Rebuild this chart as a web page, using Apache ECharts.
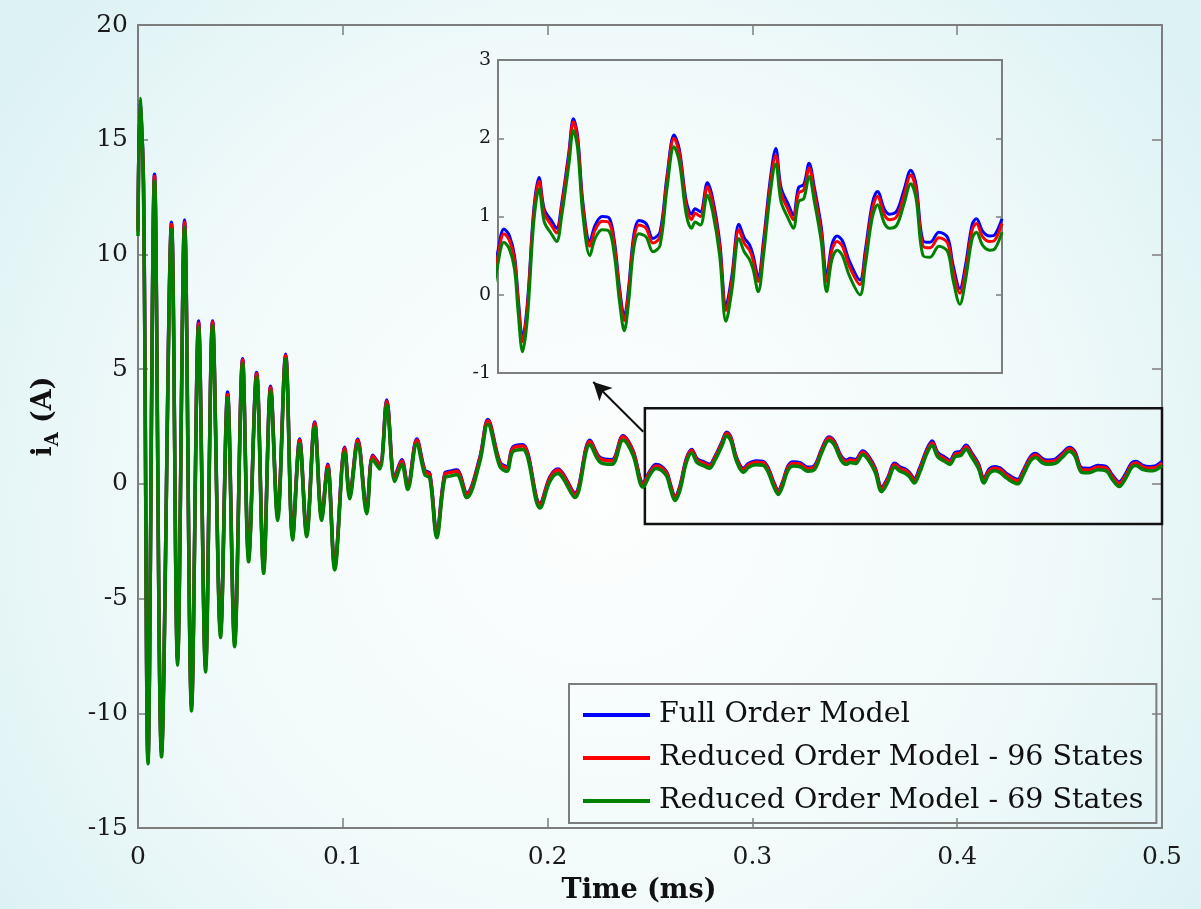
<!DOCTYPE html>
<html><head><meta charset="utf-8">
<script src="https://cdn.jsdelivr.net/npm/echarts@6/dist/echarts.min.js"></script>
<style>html,body{margin:0;padding:0;background:#eef9fa;}#c{width:1201px;height:909px;}</style>
</head><body><div id="c"></div>
<script>
// time (ms)
const TIME = [
  0, 0.00098, 0.00269, 0.00489, 0.00806, 0.01149, 0.01637, 0.01931, 0.02273, 0.02615,
  0.02957, 0.03299, 0.03641, 0.04032, 0.04374, 0.04717, 0.05108, 0.05401, 0.05792, 0.06134,
  0.06476, 0.06818, 0.07209, 0.07551, 0.07893, 0.08236, 0.08627, 0.08969, 0.09262, 0.09604,
  0.10093, 0.10337, 0.10728, 0.11168, 0.11461, 0.11804, 0.12146, 0.12537, 0.12879, 0.13172,
  0.13612, 0.14003, 0.14247, 0.14590, 0.14981, 0.15274, 0.15567, 0.16056, 0.16691, 0.17082,
  0.17669, 0.18011, 0.18304, 0.18793, 0.19624, 0.20112, 0.20503, 0.20748, 0.21334, 0.22067,
  0.22556, 0.23143, 0.23680, 0.24169, 0.24658,
  0.25, 0.25296, 0.25557, 0.25818, 0.25992, 0.26218, 0.26461, 0.26775, 0.27035, 0.27296,
  0.27644, 0.27905, 0.28166, 0.28514, 0.28740, 0.28949, 0.29210, 0.29558, 0.29819, 0.30167,
  0.30515, 0.30776, 0.31037, 0.31263, 0.31472, 0.31733, 0.31994, 0.32342, 0.32690, 0.33037,
  0.33385, 0.33733, 0.33994, 0.34342, 0.34603, 0.34777, 0.35038, 0.35386, 0.35647, 0.35995,
  0.36308, 0.36604, 0.36952, 0.37213, 0.37474, 0.37648, 0.37909, 0.38170, 0.38517, 0.38778,
  0.39039, 0.39387, 0.39648, 0.39909, 0.40170, 0.40431, 0.40692, 0.41040, 0.41301, 0.41562,
  0.41823, 0.42084, 0.42432, 0.42954, 0.43215, 0.43563, 0.43824, 0.44171, 0.44432, 0.44780,
  0.45128, 0.45476, 0.45737, 0.46085, 0.46433, 0.46868, 0.47303, 0.47564, 0.47912, 0.48173,
  0.48521, 0.48730, 0.49043, 0.49391, 0.49652, 0.50000
];
// i_A (A), Full Order Model
const FULL_ORDER = [
  11.1, 16.6, 13.1, -11.9, 13.5, -11.6, 11.4, -7.6, 11.5, -9.6,
  7.1, -7.9, 7.1, -6.4, 4.0, -6.8, 5.45, -3.1, 4.85, -3.6,
  4.25, -1.35, 5.65, -2.25, 1.95, -2.1, 2.7, -1.4, 0.85, -3.55,
  1.6, -0.45, 1.95, -1.1, 1.25, 0.85, 3.65, 0.3, 1.05, -0.05,
  1.95, 0.6, 0.45, -2.15, 0.45, 0.55, 0.6, -0.4, 1.15, 2.8,
  0.95, 0.75, 1.6, 1.7, -0.85, 0.3, 0.65, 0.45, -0.4, 1.9,
  1.15, 1.05, 2.1, 1.45, 0.05,
  0.56, 0.84, 0.76, 0.50, -0.01, -0.55, -0.10, 1.09, 1.50, 1.09,
  0.95, 0.85, 1.18, 1.82, 2.25, 2.03, 1.18, 0.68, 0.89, 1.00,
  0.98, 0.68, 0.07, -0.28, 0.07, 0.76, 0.95, 0.91, 0.72, 0.80,
  1.52, 2.04, 1.86, 1.19, 1.03, 1.10, 1.06, 1.43, 1.23, 0.68,
  -0.14, 0.25, 0.90, 0.73, 0.64, 0.51, 0.23, 0.69, 1.50, 1.87,
  1.37, 1.16, 1.02, 1.37, 1.41, 1.68, 1.37, 0.86, 0.23, 0.64,
  0.75, 0.69, 0.43, 0.19, 0.56, 1.16, 1.32, 1.09, 1.03, 1.07,
  1.33, 1.59, 1.41, 0.69, 0.67, 0.80, 0.73, 0.39, 0.08, 0.35,
  0.90, 0.97, 0.81, 0.75, 0.77, 0.97
];
// Reduced Order Model - 96 States
const ROM_96 = [
  11.0, 16.5, 13.0, -12.0, 13.4, -11.7, 11.3, -7.7, 11.4, -9.7,
  7.0, -8.0, 7.05, -6.5, 3.9, -6.9, 5.4, -3.2, 4.8, -3.7,
  4.2, -1.4, 5.6, -2.3, 1.9, -2.15, 2.65, -1.45, 0.8, -3.6,
  1.55, -0.5, 1.9, -1.15, 1.2, 0.8, 3.6, 0.25, 1.0, -0.1,
  1.9, 0.55, 0.4, -2.2, 0.4, 0.5, 0.55, -0.45, 1.1, 2.75,
  0.9, 0.7, 1.55, 1.65, -0.9, 0.25, 0.6, 0.4, -0.45, 1.85,
  1.1, 1.0, 2.05, 1.4, 0.0,
  0.50, 0.78, 0.70, 0.45, -0.06, -0.60, -0.15, 1.04, 1.45, 1.04,
  0.89, 0.79, 1.13, 1.77, 2.21, 1.98, 1.13, 0.62, 0.83, 0.94,
  0.92, 0.62, 0.02, -0.33, 0.02, 0.70, 0.89, 0.85, 0.66, 0.74,
  1.47, 2.00, 1.81, 1.13, 0.96, 1.04, 1.00, 1.38, 1.17, 0.62,
  -0.20, 0.19, 0.83, 0.66, 0.57, 0.45, 0.17, 0.62, 1.43, 1.78,
  1.30, 1.09, 0.96, 1.30, 1.34, 1.62, 1.30, 0.79, 0.17, 0.57,
  0.68, 0.62, 0.36, 0.13, 0.49, 1.09, 1.26, 1.02, 0.96, 1.00,
  1.26, 1.53, 1.34, 0.62, 0.60, 0.73, 0.66, 0.32, 0.02, 0.28,
  0.83, 0.91, 0.74, 0.68, 0.70, 0.91
];
// Reduced Order Model - 69 States
const ROM_69 = [
  10.8, 16.8, 12.8, -12.2, 13.2, -11.9, 11.1, -7.9, 11.2, -9.9,
  6.85, -8.2, 6.9, -6.7, 3.75, -7.1, 5.25, -3.4, 4.65, -3.9,
  4.05, -1.6, 5.45, -2.45, 1.75, -2.3, 2.5, -1.6, 0.65, -3.75,
  1.4, -0.65, 1.75, -1.3, 1.05, 0.65, 3.45, 0.1, 0.85, -0.25,
  1.75, 0.4, 0.25, -2.35, 0.25, 0.35, 0.4, -0.6, 0.95, 2.6,
  0.75, 0.55, 1.4, 1.5, -1.05, 0.1, 0.45, 0.25, -0.6, 1.7,
  0.95, 0.85, 1.9, 1.25, -0.15,
  0.40, 0.67, 0.59, 0.33, -0.20, -0.73, -0.29, 0.93, 1.35, 0.93,
  0.78, 0.68, 1.02, 1.66, 2.10, 1.87, 1.02, 0.50, 0.72, 0.83,
  0.81, 0.50, -0.11, -0.46, -0.11, 0.59, 0.78, 0.74, 0.55, 0.63,
  1.36, 1.89, 1.70, 1.02, 0.85, 0.93, 0.89, 1.27, 1.06, 0.50,
  -0.34, 0.06, 0.72, 0.55, 0.45, 0.33, 0.04, 0.50, 1.32, 1.67,
  1.19, 0.98, 0.85, 1.19, 1.23, 1.51, 1.19, 0.67, 0.04, 0.45,
  0.57, 0.50, 0.24, 0.00, 0.37, 0.98, 1.15, 0.91, 0.85, 0.89,
  1.15, 1.42, 1.23, 0.50, 0.48, 0.62, 0.55, 0.20, -0.12, 0.16,
  0.72, 0.80, 0.63, 0.57, 0.59, 0.80
];
const SERIES_NAMES = ['Full Order Model', 'Reduced Order Model - 96 States', 'Reduced Order Model - 69 States'];
const ZOOM_BOX = { t0: 0.2475, t1: 0.5, y0: -1.75, y1: 3.3 };
const ARROW = { from: [0.2467, 2.27], to: [0.2223, 4.44] };

const FONT = 'DejaVu Serif';
const COLORS = ['#0000ff', '#ff0000', '#008000'];
const AX = '#7d7d7d';

const pairs = v => TIME.map((t, i) => [t, v[i]]);
const insetStart = TIME.findIndex(t => t >= 0.246);
const insetPairs = v => pairs(v).slice(insetStart);
const vals = [FULL_ORDER, ROM_96, ROM_69];

const chart = echarts.init(document.getElementById('c'));

function axisBase(extra) {
  return Object.assign({
    type: 'value',
    splitLine: { show: false },
    axisLine: { show: true, onZero: false, lineStyle: { color: AX, width: 2 } },
    axisTick: { show: true, inside: true, length: 10, lineStyle: { color: AX, width: 1.5 } },
    axisLabel: { show: false }
  }, extra);
}
const labelStyle = { show: true, fontFamily: FONT, fontSize: 25, color: '#1a1a1a' };

const series = [];
vals.forEach((v, k) => {
  const s = {
    name: SERIES_NAMES[k], type: 'line', xAxisIndex: 0, yAxisIndex: 0,
    data: pairs(v), showSymbol: false, symbol: 'none', smooth: 0.35,
    lineStyle: { color: COLORS[k], width: 3.5 }, itemStyle: { color: COLORS[k] },
    z: 2 + k
  };
  if (k === 2) {
    s.markArea = {
      silent: true,
      itemStyle: { color: 'rgba(0,0,0,0)', borderColor: '#111', borderWidth: 2.5 },
      data: [[{ coord: [ZOOM_BOX.t0, ZOOM_BOX.y1] }, { coord: [ZOOM_BOX.t1, ZOOM_BOX.y0] }]]
    };
    s.markLine = {
      silent: true, animation: false,
      symbol: ['none', 'arrow'], symbolSize: [14, 18],
      label: { show: false },
      lineStyle: { color: '#111', width: 2, type: 'solid' },
      data: [[{ coord: ARROW.from }, { coord: ARROW.to }]]
    };
  }
  series.push(s);
});
vals.forEach((v, k) => {
  series.push({
    name: SERIES_NAMES[k], type: 'line', xAxisIndex: 2, yAxisIndex: 2,
    data: insetPairs(v), showSymbol: false, symbol: 'none', smooth: 0.35,
    lineStyle: { color: COLORS[k], width: 3 }, itemStyle: { color: COLORS[k] },
    z: 2 + k
  });
});

const option = {
  animation: false,
  backgroundColor: {
    type: 'radial', x: 0.5, y: 0.55, r: 0.8,
    colorStops: [{ offset: 0, color: '#fdfefe' }, { offset: 0.6, color: '#f1fafa' }, { offset: 1, color: '#ddf2f4' }]
  },
  grid: [
    { left: 138, top: 25, width: 1024, height: 806 },
    { left: 498, top: 60, width: 504, height: 313 }
  ],
  legend: {
    data: SERIES_NAMES, orient: 'vertical', left: 569, top: 684,
    padding: [16, 13, 7, 14], itemGap: 13, itemWidth: 67, itemHeight: 14,
    borderColor: AX, borderWidth: 2, backgroundColor: 'rgba(0,0,0,0)',
    icon: 'path://M0,5 L67,5 L67,9 L0,9 Z',
    textStyle: { fontFamily: FONT, fontSize: 28.5, color: '#111', lineHeight: 30, padding: [0, 0, 0, 4] }
  },
  xAxis: [
    axisBase({ gridIndex: 0, min: 0, max: 0.5, interval: 0.1, position: 'bottom',
      axisLabel: Object.assign({}, labelStyle, { margin: 17 }),
      name: 'Time (ms)', nameLocation: 'middle', nameGap: 49,
      nameTextStyle: { fontFamily: FONT, fontSize: 27, fontWeight: 'bold', color: '#111', padding: [0, 22, 0, 0] } }),
    axisBase({ gridIndex: 0, min: 0, max: 0.5, interval: 0.1, position: 'top' }),
    axisBase({ gridIndex: 1, min: 0.25, max: 0.5, position: 'bottom', axisTick: { show: false } }),
    axisBase({ gridIndex: 1, min: 0.25, max: 0.5, position: 'top', axisTick: { show: false } })
  ],
  yAxis: [
    axisBase({ gridIndex: 0, min: -15, max: 20, interval: 5, position: 'left',
      axisLabel: Object.assign({}, labelStyle, { margin: 10 }),
      name: '{i|i}{s|A}{n| (A)}', nameLocation: 'middle', nameRotate: 90, nameGap: 76,
      nameTextStyle: { padding: [0, 0, 0, 20], rich: {
        i: { fontFamily: FONT, fontSize: 27, fontWeight: 'bold', color: '#111', lineHeight: 36 },
        s: { fontFamily: FONT, fontSize: 18, fontWeight: 'bold', color: '#111', lineHeight: 18, verticalAlign: 'bottom' },
        n: { fontFamily: FONT, fontSize: 27, fontWeight: 'bold', color: '#111', lineHeight: 36 }
      } } }),
    axisBase({ gridIndex: 0, min: -15, max: 20, interval: 5, position: 'right' }),
    axisBase({ gridIndex: 1, min: -1, max: 3, interval: 1, position: 'left',
      axisTick: { show: true, inside: true, length: 6, lineStyle: { color: AX, width: 1.5 } },
      axisLabel: { show: true, fontFamily: FONT, fontSize: 19, color: '#1a1a1a', margin: 7 } }),
    axisBase({ gridIndex: 1, min: -1, max: 3, interval: 1, position: 'right',
      axisTick: { show: true, inside: true, length: 6, lineStyle: { color: AX, width: 1.5 } } })
  ],
  series: series
};
chart.setOption(option);
</script>
</body></html>
